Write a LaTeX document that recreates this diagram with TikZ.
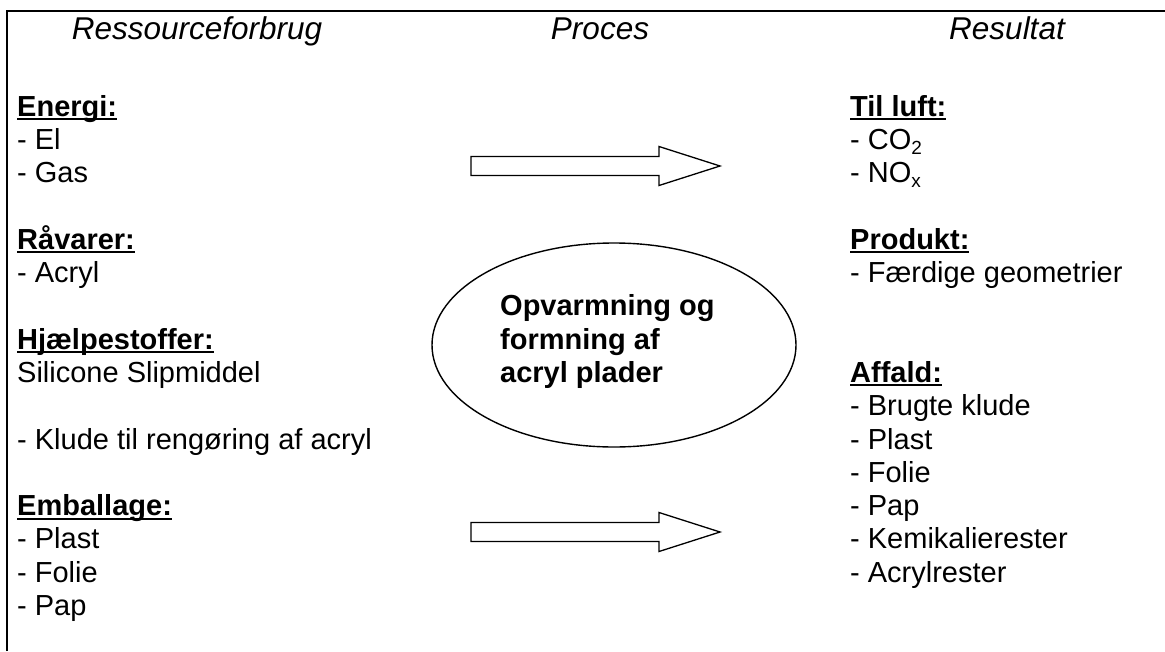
\documentclass[tikz,border=0pt]{standalone}
\usepackage{fontspec}
\setmainfont{Liberation Sans}
\usetikzlibrary{shapes.geometric}
\newcommand\myul[1]{\setbox0\hbox{#1}\rlap{\rule[-4pt]{\wd0}{2pt}}\box0}
\newcommand\hd[1]{\myul{\textbf{#1}}}
\newcommand\sub[1]{\raisebox{-5pt}{\fontsize{19}{19}\selectfont #1}}
\begin{document}
\begin{tikzpicture}[x=1pt,y=-1pt,
  txt/.style={anchor=base west, inner sep=0pt, font=\fontsize{29}{33}\selectfont},
  hdr/.style={anchor=base, inner sep=0pt, font=\fontsize{31.5}{36}\selectfont\itshape},
  blk/.style={draw, line width=1.3pt, fill=white, line join=miter},
]
\useasboundingbox (0,0) rectangle (1165,651);
\fill[white] (0,0) rectangle (1165,651);
\draw[line width=2pt] (7,651) -- (7,11) -- (1165,11);

% headers
\node[hdr] (h1) at (197,39) {Ressourceforbrug};
\node[hdr] (h2) at (600,39) {Proces};
\node[hdr] (h3) at (1007,39) {Resultat};

% left column
\node[txt] (l0)  at (17,116)   {\hd{Energi:}};
\node[txt] (l1)  at (17,149.3) {- El};
\node[txt] (l2)  at (17,182.6) {- Gas};
\node[txt] (l4)  at (17,249.2) {\hd{Råvarer:}};
\node[txt] (l5)  at (17,282.5) {- Acryl};
\node[txt] (l7)  at (17,349.1) {\hd{Hjælpestoffer:}};
\node[txt] (l8)  at (17,382.4) {Silicone Slipmiddel};
\node[txt] (l10) at (17,449)   {- Klude til rengøring af acryl};
\node[txt] (l12) at (17,515.6) {\hd{Emballage:}};
\node[txt] (l13) at (17,548.9) {- Plast};
\node[txt] (l14) at (17,582.2) {- Folie};
\node[txt] (l15) at (17,615.5) {- Pap};

% right column
\node[txt] (r0)  at (850,116)   {\hd{Til luft:}};
\node[txt] (r1)  at (850,149.3) {- CO\sub{2}};
\node[txt] (r2)  at (850,182.6) {- NO\sub{x}};
\node[txt] (r4)  at (850,249.2) {\hd{Produkt:}};
\node[txt] (r5)  at (850,282.5) {- Færdige geometrier};
\node[txt] (r8)  at (850,382.4) {\hd{Affald:}};
\node[txt] (r9)  at (850,415.7) {- Brugte klude};
\node[txt] (r10) at (850,449)   {- Plast};
\node[txt] (r11) at (850,482.3) {- Folie};
\node[txt] (r12) at (850,515.6) {- Pap};
\node[txt] (r13) at (850,548.9) {- Kemikalierester};
\node[txt] (r14) at (850,582.2) {- Acrylrester};

% process ellipse
\node[draw, ellipse, line width=1.4pt, minimum width=364pt, minimum height=204pt, inner sep=0pt] (proc) at (614,345) {};
\node[txt, font=\fontsize{29}{33}\selectfont\bfseries] (p1) at (500,315.8) {Opvarmning og};
\node[txt, font=\fontsize{29}{33}\selectfont\bfseries] (p2) at (500,349.1) {formning af};
\node[txt, font=\fontsize{29}{33}\selectfont\bfseries] (p3) at (500,382.4) {acryl plader};

% block arrows
\draw[blk] (471,156.5) -- (659,156.5) -- (659,146.5) -- (720,166) -- (659,185.5) -- (659,175.5) -- (471,175.5) -- cycle;
\draw[blk] (471,522.5) -- (659,522.5) -- (659,512.5) -- (720,532) -- (659,551.5) -- (659,541.5) -- (471,541.5) -- cycle;
\end{tikzpicture}
\end{document}
